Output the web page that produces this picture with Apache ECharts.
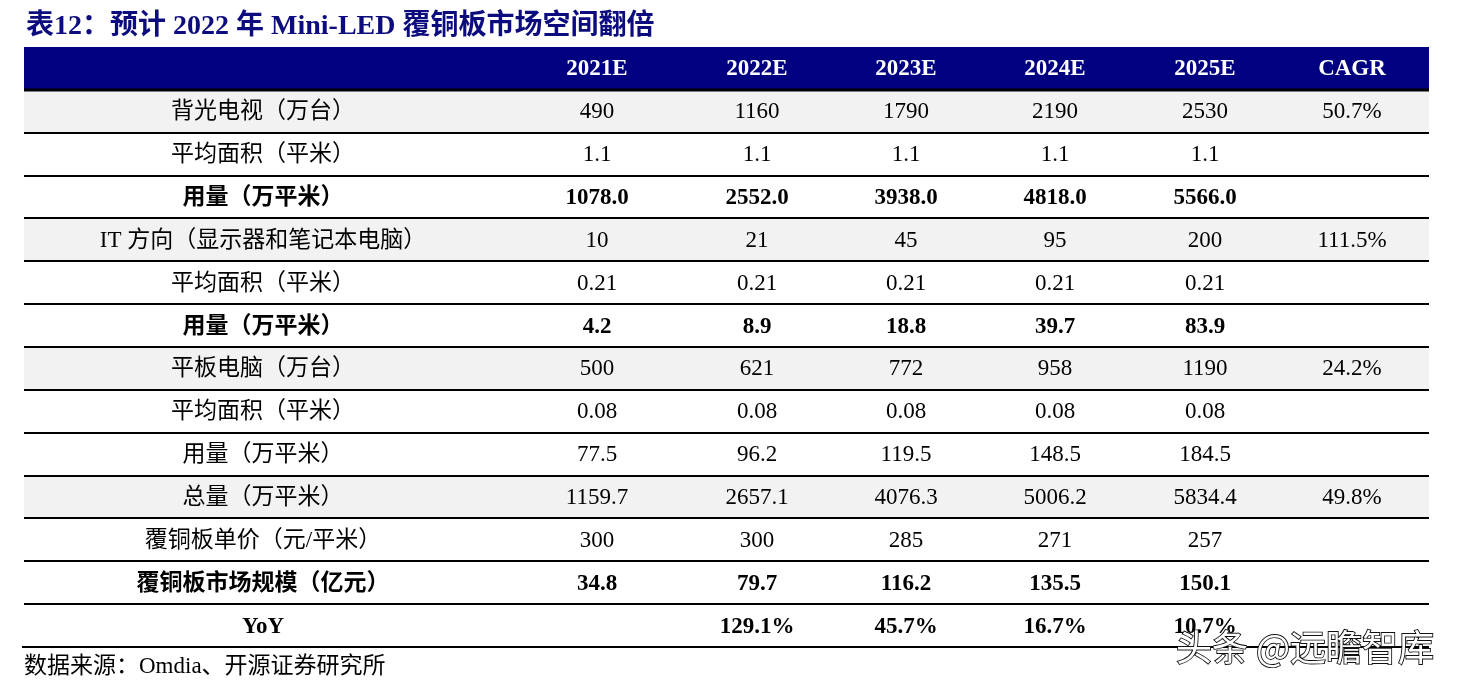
<!DOCTYPE html>
<html>
<head>
<meta charset="utf-8">
<script src="https://cdn.jsdelivr.net/npm/echarts@6/dist/echarts.min.js"></script>
<style>html,body{margin:0;padding:0;background:#fff}#chart{width:1457px;height:686px}</style>
</head>
<body>
<div id="chart"></div>
<script>
// ---- data ----
const titleText = '表12：预计 2022 年 Mini-LED 覆铜板市场空间翻倍';
const sourceText = '数据来源：Omdia、开源证券研究所';
const watermarkText = '头条 @远瞻智库';
const headers = ['', '2021E', '2022E', '2023E', '2024E', '2025E', 'CAGR'];
const rowLabels = [
  '背光电视（万台）', '平均面积（平米）', '用量（万平米）',
  'IT 方向（显示器和笔记本电脑）', '平均面积（平米）', '用量（万平米）',
  '平板电脑（万台）', '平均面积（平米）', '用量（万平米）',
  '总量（万平米）', '覆铜板单价（元/平米）', '覆铜板市场规模（亿元）', 'YoY'
];
const tvUnits = ['490', '1160', '1790', '2190', '2530'];
const tvArea = ['1.1', '1.1', '1.1', '1.1', '1.1'];
const tvUsage = ['1078.0', '2552.0', '3938.0', '4818.0', '5566.0'];
const itUnits = ['10', '21', '45', '95', '200'];
const itArea = ['0.21', '0.21', '0.21', '0.21', '0.21'];
const itUsage = ['4.2', '8.9', '18.8', '39.7', '83.9'];
const padUnits = ['500', '621', '772', '958', '1190'];
const padArea = ['0.08', '0.08', '0.08', '0.08', '0.08'];
const padUsage = ['77.5', '96.2', '119.5', '148.5', '184.5'];
const totalUsage = ['1159.7', '2657.1', '4076.3', '5006.2', '5834.4'];
const unitPrice = ['300', '300', '285', '271', '257'];
const marketSize = ['34.8', '79.7', '116.2', '135.5', '150.1'];
const marketYoY = ['', '129.1%', '45.7%', '16.7%', '10.7%'];
const cagr = ['50.7%', '', '', '111.5%', '', '', '24.2%', '', '', '49.8%', '', '', ''];
const boldRows = [2, 5, 11, 12];
const shadedRows = [0, 3, 6, 9];

// ---- layout / style ----
const TABLE_W = 1405;
const COL_X = [239, 573, 733, 882, 1031, 1181, 1328];
const FONT = '"Liberation Serif", "Noto Sans CJK SC", serif';
const NAVY = '#000080';

const rowValues = [tvUnits, tvArea, tvUsage, itUnits, itArea, itUsage, padUnits, padArea, padUsage, totalUsage, unitPrice, marketSize, marketYoY];
const rows = [headers].concat(rowLabels.map((l, i) => [l].concat(rowValues[i]).concat([cagr[i]])));

const chart = echarts.init(document.getElementById('chart'));
chart.setOption({
  animation: false,
  title: {
    text: titleText, left: 21, top: 8,
    textStyle: { fontFamily: FONT, fontSize: 28, fontWeight: 'bold', color: '#0c0c7e' }
  },
  grid: { left: 24, right: 28, top: 47, bottom: 39 },
  xAxis: { type: 'value', min: 0, max: TABLE_W, show: false },
  yAxis: { type: 'category', inverse: true, data: rows.map((r, i) => 'r' + i), show: false },
  series: [{
    type: 'custom',
    data: rows.map((r, i) => [0, i]),
    encode: { x: 0, y: 1 },
    clip: false,
    renderItem: function (params, api) {
      const r = api.value(1);
      const left = api.coord([0, r]);
      const right = api.coord([TABLE_W, r]);
      const h = api.size([0, 1])[1];
      const top = Math.round(left[1] - h / 2);
      const bottom = Math.round(left[1] + h / 2);
      const isHeader = r === 0;
      const dr = r - 1;
      const bold = isHeader || boldRows.indexOf(dr) >= 0;
      const fill = isHeader ? NAVY : (shadedRows.indexOf(dr) >= 0 ? '#f2f2f2' : '#ffffff');
      const x0 = Math.round(left[0]);
      const x1 = Math.round(right[0]);
      const children = [{
        type: 'rect',
        shape: { x: x0, y: top, width: x1 - x0, height: bottom - top },
        style: { fill: fill }
      }];
      const last = r === rows.length - 1;
      children.push({
        type: 'line',
        z2: 10,
        shape: { x1: x0 - (last ? 2 : 0), y1: bottom, x2: x1, y2: bottom },
        style: { stroke: '#000', lineWidth: isHeader ? 3 : 2 }
      });
      rows[r].forEach(function (t, j) {
        if (!t) return;
        const x = api.coord([COL_X[j], r])[0];
        const isLabel = j === 0 && !isHeader;
        children.push({
          type: 'text',
          z2: 20,
          style: {
            x: x, y: left[1] + 1, text: t, align: 'center', verticalAlign: 'middle',
            fontFamily: FONT, fontSize: isLabel ? 23 : 23, fontWeight: bold ? 'bold' : 'normal',
            fill: isHeader ? '#ffffff' : '#000000'
          }
        });
      });
      return { type: 'group', children: children };
    }
  }],
  graphic: [
    { type: 'text', left: 24, top: 655, style: { text: sourceText, fontFamily: FONT, fontSize: 23, fill: '#000' } },
    { type: 'text', right: 22, top: 628, z: 100, style: { text: watermarkText, fontFamily: '"Noto Sans CJK SC", sans-serif', fontSize: 36, fill: '#ffffff', stroke: '#111', lineWidth: 1.8 } }
  ]
});
</script>
</body>
</html>
